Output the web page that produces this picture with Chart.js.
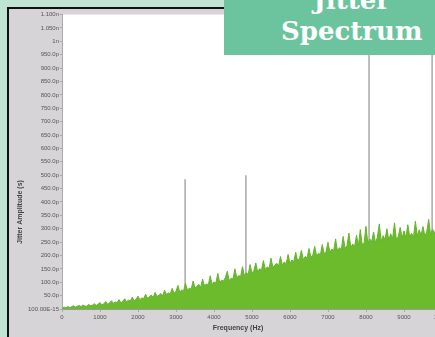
<!DOCTYPE html>
<html>
<head>
<meta charset="utf-8">
<script src="https://cdn.jsdelivr.net/npm/chart.js@4/dist/chart.umd.min.js"></script>
<style>
  html, body { margin: 0; padding: 0; }
  body {
    width: 435px; height: 337px; overflow: hidden; position: relative;
    background: #c0e5d2;
  }
  #frame {
    position: absolute; left: 7px; top: 7px; width: 520px; height: 400px;
    border-left: 2px solid #111; border-top: 2px solid #111;
    background: #d7d4d8;
  }
  #wrap { position: absolute; left: 9px; top: 10px; }
  #badge {
    position: absolute; left: 224px; top: 0; width: 211px; height: 55px;
    background: #6cc49e; color: #fff; overflow: hidden;
    font-family: "DejaVu Serif", serif; font-weight: bold; font-size: 26px;
    line-height: 31px;
  }
  #badge div { position: absolute; left: 57px; top: -15px; text-align: center; }
</style>
</head>
<body>
<div id="frame"></div>
<div id="wrap"><canvas id="jitterSpectrum" width="460" height="327"></canvas></div>
<div id="badge"><div>Jitter<br>Spectrum</div></div>
<script>
// Jitter spectrum: broadband noise floor plus a few discrete tones

// noise floor, one value every 50 Hz from 0 to 10 kHz (ps)
const noiseFreqStep = 50;
const noiseValues = [
    3, 7, 5, 9, 6, 8, 12, 7, 10, 13, 9, 15, 11, 10, 17, 12, 14, 20, 13, 18,
    24, 16, 19, 28, 18, 22, 31, 21, 26, 24, 35, 23, 29, 38, 27, 33, 30, 44, 31, 36,
    48, 35, 41, 39, 55, 40, 46, 52, 43, 62, 47, 51, 58, 49, 70, 54, 60, 57, 77, 59,
    66, 88, 62, 71, 68, 96, 70, 78, 74, 105, 79, 84, 92, 81, 112, 86, 94, 89, 124, 92,
    101, 97, 133, 99, 108, 104, 118, 141, 106, 115, 112, 150, 117, 125, 121, 158, 124, 135, 129, 166,
    133, 144, 172, 138, 150, 146, 181, 148, 157, 152, 190, 155, 164, 171, 160, 196, 163, 176, 168, 204,
    170, 183, 177, 212, 180, 189, 219, 184, 196, 191, 226, 193, 201, 234, 198, 208, 203, 241, 206, 215,
    249, 211, 224, 218, 262, 216, 229, 222, 271, 226, 236, 284, 229, 243, 233, 276, 236, 297, 240, 248,
    309, 243, 262, 251, 288, 247, 268, 318, 252, 274, 259, 300, 256, 281, 262, 322, 259, 271, 305, 264,
    292, 266, 315, 270, 283, 268, 328, 273, 296, 275, 308, 271, 290, 335, 276, 299, 279, 312, 281, 294,
    305
];

// discrete spurs (Hz, ps)
const spurFreqs = [3240, 4840, 8080, 9740];
const spurAmps = [485, 500, 1100, 1100];

const xTickLabels = ['0', '1000', '2000', '3000', '4000', '5000', '6000', '7000', '8000', '9000', '10000'];
const yTickLabels = [
    '100.00E-15', '50.0p', '100.0p', '150.0p', '200.0p', '250.0p', '300.0p', '350.0p',
    '400.0p', '450.0p', '500.0p', '550.0p', '600.0p', '650.0p', '700.0p', '750.0p',
    '800.0p', '850.0p', '900.0p', '950.0p', '1n', '1.050n', '1.100n'
];
const xTitle = 'Frequency (Hz)';
const yTitle = 'Jitter Amplitude (s)';

const noisePoints = noiseValues.map((v, i) => ({ x: i * noiseFreqStep, y: v }));

const spurSets = spurFreqs.map((f, i) => ({
    data: [{ x: f, y: 0 }, { x: f, y: spurAmps[i] }],
    borderColor: '#a8a8a8',
    borderWidth: 1.5,
    pointRadius: 0,
    fill: false
}));

// white plot area on the grey panel
const plotBackground = {
    id: 'plotBackground',
    beforeDraw(chart) {
        const { ctx, chartArea: a } = chart;
        ctx.save();
        ctx.fillStyle = '#ffffff';
        ctx.fillRect(a.left, a.top, a.right - a.left, a.bottom - a.top);
        ctx.restore();
    }
};

// axis titles sit off-centre on this panel, so place them by hand
const axisTitles = {
    id: 'axisTitles',
    afterDraw(chart) {
        const ctx = chart.ctx;
        ctx.save();
        ctx.fillStyle = '#444';
        ctx.font = 'bold 7px "Liberation Sans"';
        ctx.textAlign = 'center';
        ctx.textBaseline = 'middle';
        ctx.fillText(xTitle, 229, 318);
        ctx.translate(11, 202);
        ctx.rotate(-Math.PI / 2);
        ctx.fillText(yTitle, 0, 0);
        ctx.restore();
    }
};

new Chart('jitterSpectrum', {
    type: 'line',
    data: {
        datasets: [{
            data: noisePoints,
            borderColor: '#64b528',
            backgroundColor: '#6bbb2d',
            borderWidth: 1,
            pointRadius: 0,
            tension: 0,
            fill: 'origin'
        }].concat(spurSets)
    },
    options: {
        responsive: false,
        devicePixelRatio: 1,
        animation: false,
        layout: { padding: { top: 4, right: 27, bottom: 0, left: 0 } },
        plugins: { legend: { display: false }, tooltip: { enabled: false } },
        scales: {
            x: {
                type: 'linear', min: 0, max: 10000,
                ticks: {
                    stepSize: 1000, autoSkip: false, maxRotation: 0, padding: 2,
                    color: '#555', font: { family: 'Liberation Sans', size: 6 },
                    callback: (v, i) => xTickLabels[i]
                },
                grid: { drawOnChartArea: false, tickLength: 3, color: '#aaa' },
                border: { color: '#999' },
                afterFit: s => { s.height = 28; }
            },
            y: {
                type: 'linear', min: 0, max: 1100,
                ticks: {
                    stepSize: 50, autoSkip: false, padding: 1,
                    color: '#555', font: { family: 'Liberation Sans', size: 6 },
                    callback: (v, i) => yTickLabels[i]
                },
                grid: { drawOnChartArea: false, tickLength: 2, color: '#aaa' },
                border: { color: '#aaa' },
                afterFit: s => { s.width = 53; }
            }
        }
    },
    plugins: [plotBackground, axisTitles]
});
</script>
</body>
</html>
